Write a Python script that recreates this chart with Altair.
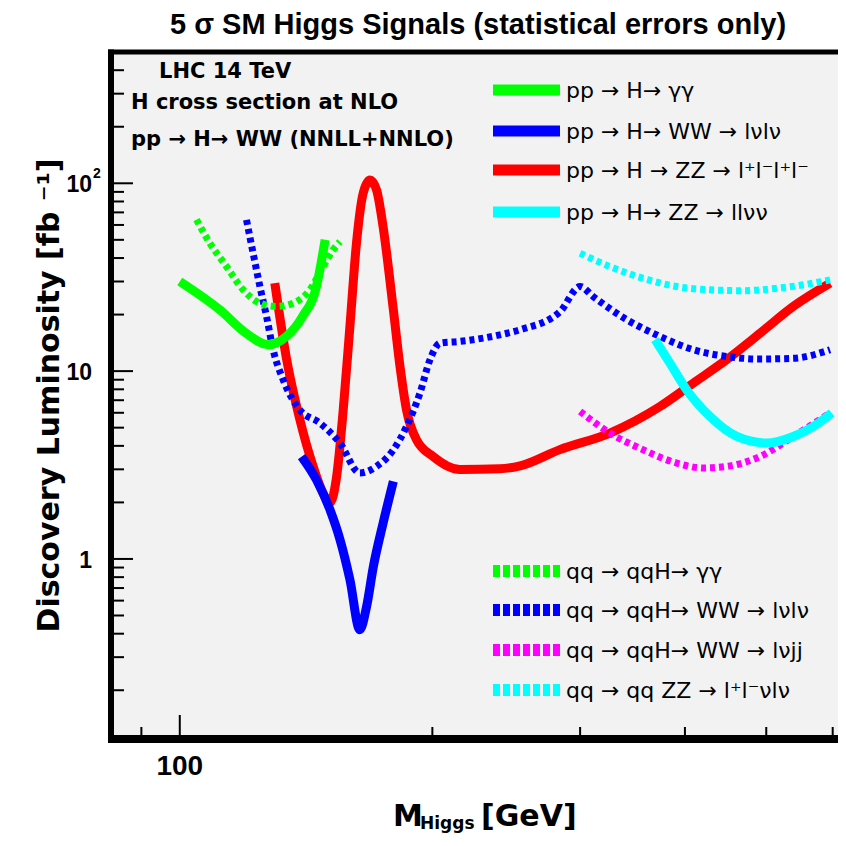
import altair as alt
import pandas as pd

# ---------------- data ----------------
# pp -> H -> gamma gamma (solid green)
gg_m = [100, 111.6, 120, 127.5, 134, 140, 145.5, 149]
gg_l = [30, 21.2, 15.9, 13.8, 15.3, 19.5, 28.2, 50]

# qq -> qqH -> gamma gamma (dashed green)
vgg_m = [104.7, 108.6, 113.7, 119, 124.6, 130.4, 136.5, 142.9, 148.2, 152.3, 155.2]
vgg_l = [64, 48, 36, 27.1, 23, 22.1, 23, 27.1, 36, 44.2, 48.9]

# pp -> H -> WW -> lvlv (solid blue)
ww_m = [139.7, 145.5, 151, 155.2, 159.5, 163.9, 167, 170.1, 174.7, 179.7]
ww_l = [3.51, 2.64, 1.83, 1.27, 0.776, 0.42, 0.56, 0.91, 1.55, 2.59]

# qq -> qqH -> WW -> lvlv (dashed blue)
vww_m = [120.1, 122.3, 124.6, 126.9, 129.2, 132.8, 139, 146.9, 155.2, 163.9, 171.6,
         179.7, 186.3, 193.3, 198.7, 204.2, 215.7, 240.7, 254.4, 283.8, 300, 311.1,
         340.9, 373.5, 409.3, 448.5, 491.5, 538.5, 595.7]
vww_l = [63.8, 42.4, 28.2, 19.5, 13.0, 9.0, 6.22, 5.29, 4.14, 2.87, 3.11,
         3.81, 5.07, 7.64, 11.5, 14.1, 14.4, 15.6, 16.6, 20.7, 28.2, 24.9,
         18.8, 15.3, 13.0, 11.97, 11.6, 11.7, 13.0]

# pp -> H -> ZZ -> 4l (solid red)
zz_m = [129.8, 134.1, 139, 144.2, 149.6, 151, 153.8, 156.6, 159.5, 162.4, 165.4,
        168.5, 171.6, 174.7, 179.7, 183, 186.3, 191.5, 200.4, 215.7, 240.7, 254.4,
        283.8, 325.6, 373.5, 409.3, 448.5, 491.5, 538.5, 595.7]
zz_l = [29.4, 11.5, 5.54, 3.11, 2.07, 1.99, 2.75, 6.22, 17.3, 48, 88.5,
        104, 92.1, 58.8, 21.2, 10.6, 6.22, 4.31, 3.51, 2.99, 3.02, 3.13,
        3.82, 4.68, 6.48, 8.63, 11.5, 15.9, 22.1, 29.4]

# pp -> H -> ZZ -> llvv (solid cyan)
zznn_m = [368.5, 384, 401.9, 428.5, 461.2, 500.6, 538.5, 569, 598.4]
zznn_l = [14.7, 11.0, 7.95, 5.73, 4.49, 4.14, 4.49, 5.07, 5.98]

# qq -> qq ZZ -> llvv (dashed cyan)
vzz_m = [300, 325.6, 356.8, 391, 428.5, 469.5, 514.5, 553.6, 595.7]
vzz_l = [42.4, 36, 31.2, 28.2, 27.1, 26.8, 27.6, 28.8, 30.6]

# qq -> qqH -> WW -> lvjj (dashed magenta)
vwwjj_m = [300, 325.6, 356.8, 391, 420.7, 448.5, 491.5, 538.5, 595.7]
vwwjj_l = [6.1, 4.68, 3.81, 3.24, 3.05, 3.11, 3.51, 4.49, 5.98]

# axis ticks / labels
y_major = [1, 10, 100]
y_minor = [0.2, 0.3, 0.4, 0.5, 0.6, 0.7, 0.8, 0.9, 2, 3, 4, 5, 6, 7, 8, 9,
           20, 30, 40, 50, 60, 70, 80, 90, 200, 300, 400]
y_label_vals = [1, 10, 100]
y_label_txt = ["1", "10", "10"]
x_major = [100]
x_minor = [90, 200, 300, 400, 500, 600]
x_label_vals = [100]
x_label_txt = ["100"]

top_legend = ["pp → H→ γγ", "pp → H→ WW → lνlν", "pp → H → ZZ → l⁺l⁻l⁺l⁻", "pp → H→ ZZ → llνν"]
top_colors = ["#00ff00", "#0000ff", "#ff0000", "#00ffff"]
bot_legend = ["qq → qqH→ γγ", "qq → qqH→ WW → lνlν", "qq → qqH→ WW → lνjj", "qq → qq ZZ → l⁺l⁻νlν"]
bot_colors = ["#00ff00", "#0000ff", "#ff00ff", "#00ffff"]

info_lines = ["LHC 14 TeV", "H cross section at NLO", "pp → H→ WW (NNLL+NNLO)"]

# ---------------- chart ----------------
W, H = 727, 687
xs = alt.Scale(type="log", domain=[82.8, 608.8], nice=False)
ys = alt.Scale(type="log", domain=[0.11, 500], nice=False)
one = pd.DataFrame({"a": [0]})
TXT = "DejaVu Sans"
NUM = "Liberation Sans"


def line(m, l, color, width, dash=None):
    df = pd.DataFrame({"m": m, "l": l})
    kw = dict(color=color, strokeWidth=width, strokeCap="butt", interpolate="monotone")
    if dash:
        kw["strokeDash"] = dash
    return alt.Chart(df).mark_line(**kw).encode(
        x=alt.X("m:Q", scale=xs, axis=None),
        y=alt.Y("l:Q", scale=ys, axis=None),
    )


def yticks(vals, length):
    return alt.Chart(pd.DataFrame({"v": vals})).mark_rule(color="black", strokeWidth=2).encode(
        y=alt.Y("v:Q", scale=ys, axis=None), x=alt.value(0), x2=alt.value(length))


def xticks(vals, length):
    return alt.Chart(pd.DataFrame({"v": vals})).mark_rule(color="black", strokeWidth=2).encode(
        x=alt.X("v:Q", scale=xs, axis=None), y=alt.value(H), y2=alt.value(H - length))


def text(t, x, y, size, weight="normal", align="left", font=TXT, angle=0, baseline="middle"):
    kw = dict(text=t, fontSize=size, fontWeight=weight, align=align, font=font,
              baseline=baseline, color="black")
    if angle:
        kw["angle"] = angle
    return alt.Chart(one).mark_text(**kw).encode(x=alt.value(x), y=alt.value(y))


def rule(x, x2, y, y2, width, color="black", dash=None):
    kw = dict(color=color, strokeWidth=width, strokeCap="butt")
    if dash:
        kw["strokeDash"] = dash
    return alt.Chart(one).mark_rule(**kw).encode(
        x=alt.value(x), x2=alt.value(x2), y=alt.value(y), y2=alt.value(y2))


layers = []
# ticks
layers += [yticks(y_major, 22), yticks(y_minor, 13), xticks(x_major, 24), xticks(x_minor, 12)]

# curves
layers += [
    line(zz_m, zz_l, "#ff0000", 9),
    line(vww_m, vww_l, "#0000ff", 7, [5, 4]),
    line(vgg_m, vgg_l, "#00ff00", 7, [5, 4]),
    line(vwwjj_m, vwwjj_l, "#ff00ff", 7, [5, 4]),
    line(vzz_m, vzz_l, "#00ffff", 7, [5, 4]),
    line(ww_m, ww_l, "#0000ff", 9),
    line(gg_m, gg_l, "#00ff00", 9),
    line(zznn_m, zznn_l, "#00ffff", 9),
]

# frame (left, top, bottom)
layers += [
    rule(0, 0, -2.5, H + 4, 6),
    rule(-3, W, 0, 0, 5),
    rule(-3, W, H, H, 8),
]

# axis labels
layers.append(
    alt.Chart(pd.DataFrame({"v": y_label_vals, "t": y_label_txt})).mark_text(
        align="right", baseline="middle", font=NUM, fontWeight="bold", fontSize=23, dy=2, color="black"
    ).encode(y=alt.Y("v:Q", scale=ys, axis=None), x=alt.value(-19), text="t:N")
)
layers.append(
    alt.Chart(pd.DataFrame({"v": [100], "t": ["2"]})).mark_text(
        align="left", baseline="middle", font=NUM, fontWeight="bold", fontSize=14, dy=-9, color="black"
    ).encode(y=alt.Y("v:Q", scale=ys, axis=None), x=alt.value(-18), text="t:N")
)
layers.append(
    alt.Chart(pd.DataFrame({"v": x_label_vals, "t": x_label_txt})).mark_text(
        align="center", baseline="middle", font=NUM, fontWeight="bold", fontSize=28, color="black"
    ).encode(x=alt.X("v:Q", scale=xs, axis=None), y=alt.value(H + 28), text="t:N")
)

# titles
layers.append(text("5 σ SM Higgs Signals (statistical errors only)", 367, -27, 29, "bold", "center", font=NUM))
layers.append(text("Discovery Luminosity [fb ⁻¹]", -61, H / 2, 30, "bold", "center", angle=270))
layers.append(text("M", 282, 765, 30, "bold"))
layers.append(text("Higgs", 309, 772, 17, "bold"))
layers.append(text("[GeV]", 370, 765, 30, "bold"))

# info text
layers.append(text(info_lines[0], 48, 20, 21, "bold"))
layers.append(text(info_lines[1], 20, 51, 21, "bold"))
layers.append(text(info_lines[2], 20, 88, 21, "bold"))

# legends
top_rows = [38, 79, 118, 160]
for lab, col, yy in zip(top_legend, top_colors, top_rows):
    layers.append(rule(382, 449, yy, yy, 11, col))
    layers.append(text(lab, 455, yy + 1, 22))
bot_rows = [519, 558, 598, 638]
for lab, col, yy in zip(bot_legend, bot_colors, bot_rows):
    layers.append(rule(382, 449, yy, yy, 12, col, [7, 3]))
    layers.append(text(lab, 455, yy + 1, 22))

chart = alt.layer(*layers).properties(
    width=W, height=H,
    padding={"left": 103, "top": 44, "right": 0, "bottom": 97},
    autosize=alt.AutoSizeParams(type="none"),
    background="white",
).configure_view(stroke=None, fill="#f2f2f2")

chart.save("out.html", embed_options={"renderer": "svg", "actions": False})
